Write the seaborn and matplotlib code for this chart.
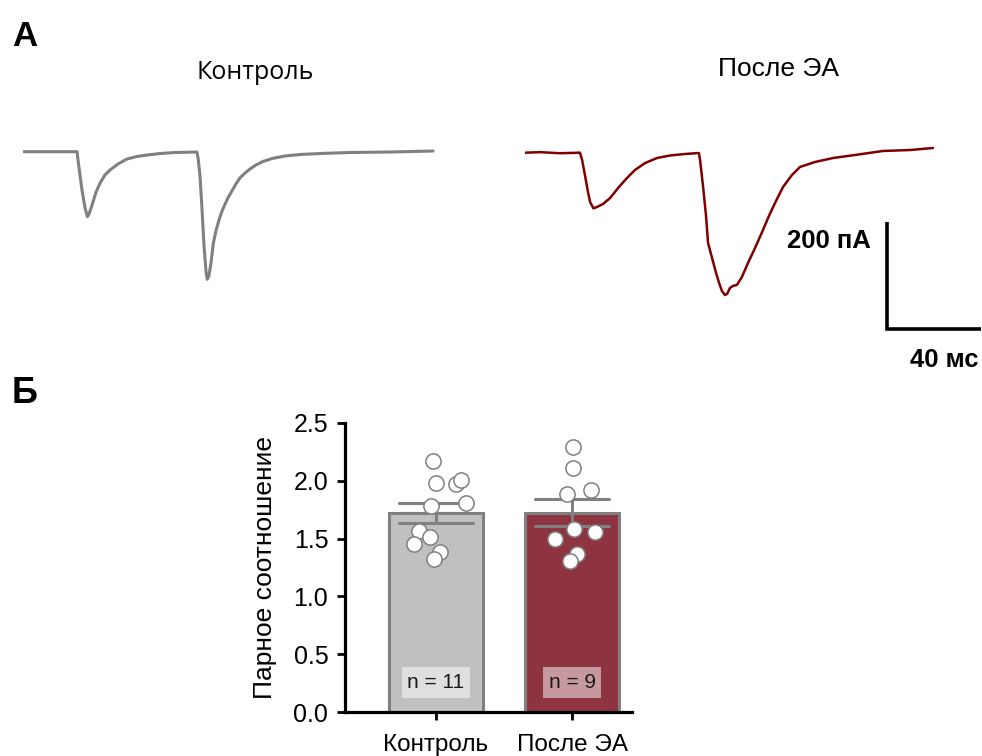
import numpy as np
import pandas as pd
import matplotlib
matplotlib.use("Agg")
import matplotlib.pyplot as plt
import seaborn as sns

# ---------------- evoked currents (time in ms, current in pA) ----------------
ctrl_t = [0, 23.0, 23.4, 25.1, 26.4, 27.4, 28.1, 29.4, 31.1, 32.8, 34.9, 37.0,
          40.4, 44.3, 48.5, 52.8, 58.3, 64.7, 74.0, 74.5, 75.3, 76.2, 77.0,
          77.9, 78.4, 79.1, 80.0, 81.0, 82.1, 83.4, 84.7, 86.0, 87.2, 88.9,
          90.6, 92.3, 94.5, 96.6, 99.1, 102.1, 106.0, 111.5, 117.9, 126.4,
          139.1, 156.2, 174.5]
ctrl_i = [0, 0, -15.5, -71.6, -105.2, -121.5, -116.4, -99.6, -75.3, -58.5,
          -43.4, -34.2, -23.0, -13.6, -9.0, -6.2, -3.4, -1.5, -0.6, -11.8,
          -43.6, -109, -174, -225, -238.5, -232, -208, -170.7, -148.2, -127.7,
          -110.8, -97.8, -86.5, -73.5, -60.4, -49.2, -39.8, -32.3, -24.9,
          -18.3, -12.7, -8.0, -5.2, -3.4, -1.5, -0.6, 1.3]

ea_t = [0, 6.4, 14.9, 23.4, 24.3, 25.5, 26.8, 27.7, 29.1, 30.6, 33.2, 36.2,
        39.6, 43.4, 46.8, 51.1, 56.2, 61.7, 68.1, 74.0, 74.5, 75.7, 77.0,
        77.9, 79.6, 81.3, 82.6, 83.8, 85.1, 86.0, 87.2, 88.5, 90.2, 92.3,
        94.9, 97.9, 100.9, 103.8, 106.8, 109.8, 113.6, 117.0, 123.4, 131.1,
        140.4, 152.3, 163.8, 173.6]
ea_i = [0, 1, -1, 0, -13.6, -41.7, -73.5, -92, -104, -101.5, -95.9, -84.7,
        -66, -47.3, -32.3, -19.3, -9.9, -5.2, -2.4, -0.6, -13.6, -60.4,
        -116.4, -168.8, -196.8, -224.9, -243.6, -258.5, -266, -264, -253,
        -249, -247, -232.3, -206, -178, -148.2, -118.3, -90.3, -64.1, -41.7,
        -26.7, -17.4, -9.9, -4.3, 3.2, 5, 8.8]

scale_ms = 40
scale_pa = 200

# ---------------- paired-pulse ratios ----------------
groups = ["Контроль", "После ЭА"]
ctrl_ratio = [2.17, 1.98, 1.97, 2.01, 1.81, 1.78, 1.57, 1.51, 1.45, 1.38, 1.32]
ea_ratio = [2.29, 2.11, 1.89, 1.92, 1.58, 1.50, 1.555, 1.37, 1.31]
n_labels = ["n = 11", "n = 9"]
yticks = [0.0, 0.5, 1.0, 1.5, 2.0, 2.5]

# horizontal scatter of the individual cells around each bar
ctrl_jitter = [-0.024, 0.0, 0.147, 0.184, 0.221, -0.039, -0.123, -0.042,
               -0.160, 0.029, -0.015]
ea_jitter = [0.005, 0.005, -0.037, 0.138, 0.017, -0.123, 0.169, 0.034, -0.015]

# ---------------- style ----------------
sns.set_theme(style="ticks")
plt.rcParams["font.family"] = ["Liberation Sans", "DejaVu Sans"]
plt.rcParams["text.color"] = "black"
plt.rcParams["axes.labelcolor"] = "black"

GRAY = "#808080"
LIGHT = "#c0c0c0"
WINE = "#8e3340"
MAROON = "#800000"

W, H = 982, 756
fig = plt.figure(figsize=(W / 100, H / 100), dpi=100)


def fx(x):
    return x / W


def fy(y):
    return 1 - y / H


PX_PER_MS = 2.35
PX_PER_PA = 0.535


def trace_axes(x0, x1, baseline, top=120, bottom=345):
    ax = fig.add_axes([fx(x0), fy(bottom), (x1 - x0) / W, (bottom - top) / H])
    ax.set_xlim(0, (x1 - x0) / PX_PER_MS)
    ax.set_ylim(-(bottom - baseline) / PX_PER_PA, (baseline - top) / PX_PER_PA)
    ax.axis("off")
    return ax


# ---------------- panel A: traces ----------------
ax_c = trace_axes(23, 450, 151.7)
sns.lineplot(x=ctrl_t, y=ctrl_i, ax=ax_c, color=GRAY, linewidth=2.2,
             sort=False, estimator=None)

ax_e = trace_axes(525, 982, 152.7)
sns.lineplot(x=ea_t, y=ea_i, ax=ax_e, color=MAROON, linewidth=1.8,
             sort=False, estimator=None)

# scale bar
sb_t, sb_i = 154, -330
ax_e.plot([sb_t, sb_t, sb_t + scale_ms], [sb_i + scale_pa, sb_i, sb_i],
          color="black", linewidth=2.6, solid_joinstyle="miter",
          solid_capstyle="butt", clip_on=False)
fig.text(fx(871), fy(248), f"{scale_pa} пА", ha="right", va="baseline",
         fontsize=18.5, fontweight="bold")
fig.text(fx(978), fy(367), f"{scale_ms} мс", ha="right", va="baseline",
         fontsize=18.5, fontweight="bold")

fig.text(fx(255), fy(79), "Контроль", ha="center", va="baseline",
         fontsize=18, family=["Open Sans", "DejaVu Sans"])
fig.text(fx(779), fy(76), "После ЭА", ha="center", va="baseline", fontsize=19)

fig.text(fx(12), fy(46), "А", ha="left", va="baseline", fontsize=25,
         fontweight="bold")
fig.text(fx(12), fy(403), "Б", ha="left", va="baseline", fontsize=26,
         fontweight="bold")

# ---------------- panel Б: paired-pulse ratio ----------------
axb = fig.add_axes([fx(345), fy(712), (632 - 345) / W, (712 - 423) / H])

df = pd.DataFrame({
    "group": [groups[0]] * len(ctrl_ratio) + [groups[1]] * len(ea_ratio),
    "ratio": ctrl_ratio + ea_ratio,
})
sns.barplot(data=df, x="group", y="ratio", hue="group", order=groups,
            hue_order=groups, palette=[LIGHT, WINE], saturation=1,
            width=0.69, errorbar="se", capsize=0.55,
            err_kws={"color": GRAY, "linewidth": 2.2},
            edgecolor=GRAY, linewidth=2.2, legend=False, ax=axb)

pts_x = [0 + j for j in ctrl_jitter] + [1 + j for j in ea_jitter]
pts_y = ctrl_ratio + ea_ratio
sns.scatterplot(x=pts_x, y=pts_y, s=120, color="white", edgecolor=GRAY,
                linewidth=1.1, zorder=5, ax=axb, legend=False)

for i, lab in enumerate(n_labels):
    axb.text(i, 0.255, lab, ha="center", va="center", fontsize=15,
             color="#1a1a1a", zorder=6,
             bbox=dict(boxstyle="square,pad=0.28", fc=(1, 1, 1, 0.5), ec="none"))

axb.set_xlim(-0.669, 1.441)
axb.set_ylim(0, 2.5)
axb.set_yticks(yticks)
axb.set_yticklabels([f"{v:.1f}" for v in yticks])
axb.set_xlabel("")
axb.set_ylabel("Парное соотношение", fontsize=19, labelpad=12)
for side in ("top", "right"):
    axb.spines[side].set_visible(False)
for side in ("left", "bottom"):
    axb.spines[side].set_linewidth(2.3)
    axb.spines[side].set_color("black")
axb.tick_params(axis="y", direction="out", length=6, width=2, pad=6,
                labelsize=18, colors="black")
axb.tick_params(axis="x", direction="out", length=6, width=2, pad=10,
                labelsize=17.5, colors="black")

fig.savefig("out.png", dpi=100, facecolor="white")
